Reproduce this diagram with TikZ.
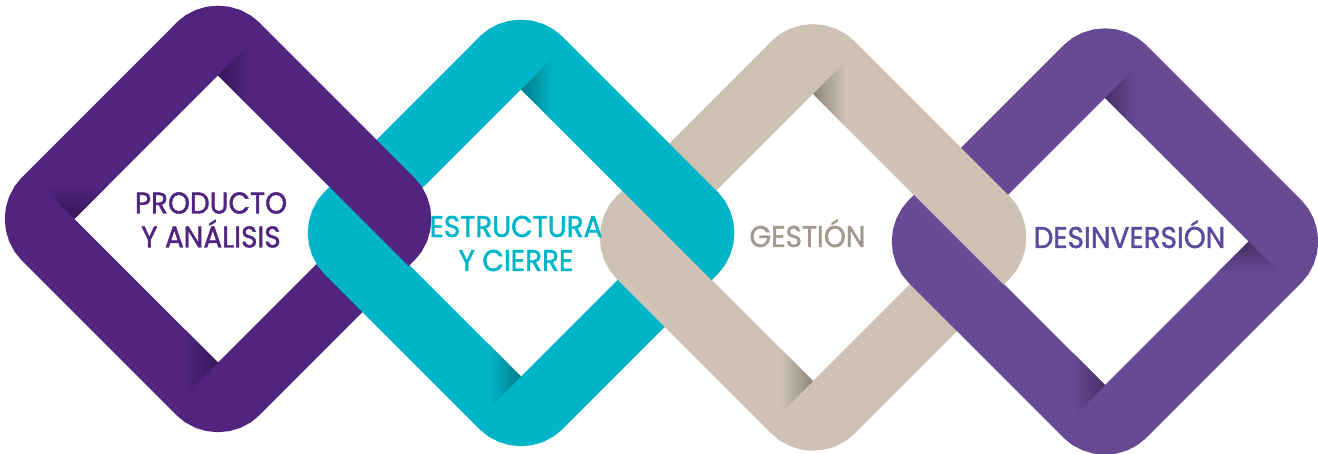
\documentclass[tikz,border=0pt]{standalone}
\usepackage{fontspec}
\setmainfont[FakeStretch=0.93, FakeBold=1.4]{Poppins}
\usepackage{tikz}

\definecolor{morado}{HTML}{50247F}
\definecolor{moradoosc}{HTML}{361758}
\definecolor{cian}{HTML}{00B5C8}
\definecolor{cianosc}{HTML}{007D8A}
\definecolor{beige}{HTML}{CDC2B4}
\definecolor{beigeosc}{HTML}{8E857B}
\definecolor{lila}{HTML}{674A93}
\definecolor{lilaosc}{HTML}{452F68}
\definecolor{gris}{HTML}{A19A91}
\definecolor{lilatexto}{HTML}{5C4A9C}

\begin{document}
\begin{tikzpicture}[x=0.5pt,y=-0.5pt,
    anillo/.style={line width=33.25pt, rounded corners=13pt},
    rotulo/.style={font=\fontsize{15}{17}\selectfont, align=center, inner sep=0pt}]
    \useasboundingbox (0,0) rectangle (1318,454);
    \foreach \cx/\cy/\col in {218/219/morado, 521/233/cian, 813/237.5/beige, 1105/241.5/lila}
        \draw [anillo, draw=\col] (\cx+95.3,\cy-95.3) -- (\cx+190.6,\cy) -- (\cx,\cy+190.6)
            -- (\cx-190.6,\cy) -- (\cx,\cy-190.6) -- cycle;
    \foreach \cx/\cy/\col in {218/219/morado, 521/233/cian, 813/237.5/beige} {
        \begin{scope}
            \clip (\cx-150,\cy-293.5) -- (\cx+300,\cy+156.5) -- (\cx+400,\cy-300) -- cycle;
            \draw [anillo, draw=\col] (\cx+95.3,\cy-95.3) -- (\cx+190.6,\cy) -- (\cx,\cy+190.6)
                -- (\cx-190.6,\cy) -- (\cx,\cy-190.6) -- cycle;
        \end{scope}
    }
    \foreach \cx/\cy/\col/\osc in {218/219/morado/moradoosc, 521/233/cian/cianosc,
            813/237.5/beige/beigeosc, 1105/241.5/lila/lilaosc} {
        \shade [left color=\osc, right color=\col] (\cx,\cy-143.5) -- (\cx+32,\cy-175.5) -- (\cx+32,\cy-111.5) -- cycle;
        \shade [left color=\col, right color=\osc] (\cx,\cy+143.5) -- (\cx-32,\cy+111.5) -- (\cx-32,\cy+175.5) -- cycle;
    }
    \shade [top color=morado, bottom color=moradoosc] (74.5,219) -- (42.5,187) -- (106.5,187) -- cycle;
    \shade [top color=lilaosc, bottom color=lila] (1248.5,241.5) -- (1216.5,273.5) -- (1280.5,273.5) -- cycle;
    \node [rotulo, text=morado] (producto) at (211,220) {PRODUCTO\\Y ANÁLISIS};
    \node [rotulo, text=cian] (estructura) at (516,243.5) {ESTRUCTURA\\Y CIERRE};
    \node [rotulo, text=gris, anchor=base] (gestion) at (807.5,247) {GESTIÓN};
    \node [rotulo, text=lilatexto, anchor=base] (desinversion) at (1129.5,248) {DESINVERSIÓN};
\end{tikzpicture}
\end{document}
